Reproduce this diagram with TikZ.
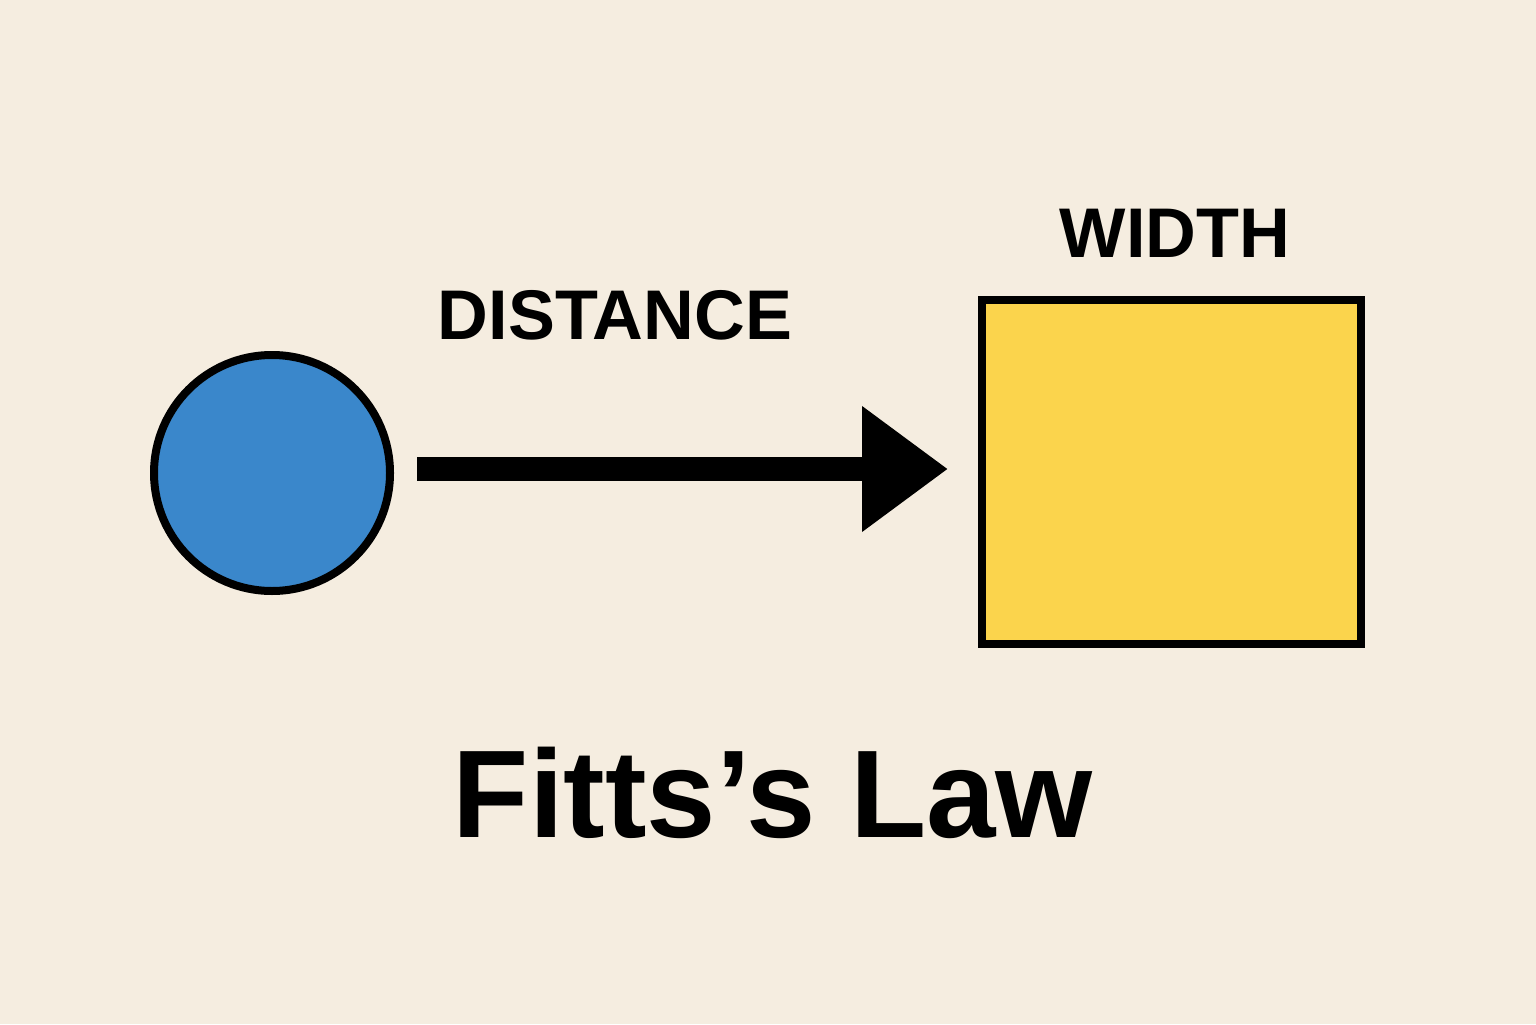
\documentclass[tikz,border=0pt]{standalone}
\usepackage{fontspec}
\setmainfont{Liberation Sans}
\usetikzlibrary{arrows.meta}
\definecolor{bg}{HTML}{F5EDE0}
\definecolor{cblue}{HTML}{3A87CB}
\definecolor{cyellow}{HTML}{FBD44C}
\tikzset{
  shape outline/.style={draw=black, line width=0.16cm, inner sep=0, outer sep=0},
  lbl/.style={font=\bfseries\fontsize{40}{40}\selectfont, inner sep=0},
}
\begin{document}
\begin{tikzpicture}
\fill[bg] (0,0) rectangle (30.72,20.48);
\useasboundingbox (0,0) rectangle (30.72,20.48);
\node[shape outline, circle, fill=cblue, minimum size=4.72cm] (start) at (5.44,11.02) {};
\node[shape outline, rectangle, fill=cyellow, minimum width=7.58cm, minimum height=6.88cm] (target) at (23.43,11.04) {};
\coordinate (a0) at (8.34,11.10);
\coordinate (a1) at (18.96,11.10);
\draw[line width=0.48cm, -{Triangle[length=1.72cm 0 0, width=2.4cm 0 0]}] (a0) -- (a1);
\node[lbl] (dist) at (12.30,14.18) {DISTANCE};
\node[lbl] (width) at (23.50,15.82) {WIDTH};
\node[font=\bfseries\fontsize{71}{71}\selectfont, inner sep=0] (title) at (15.46,4.62) {Fitts’s Law};
\end{tikzpicture}
\end{document}
